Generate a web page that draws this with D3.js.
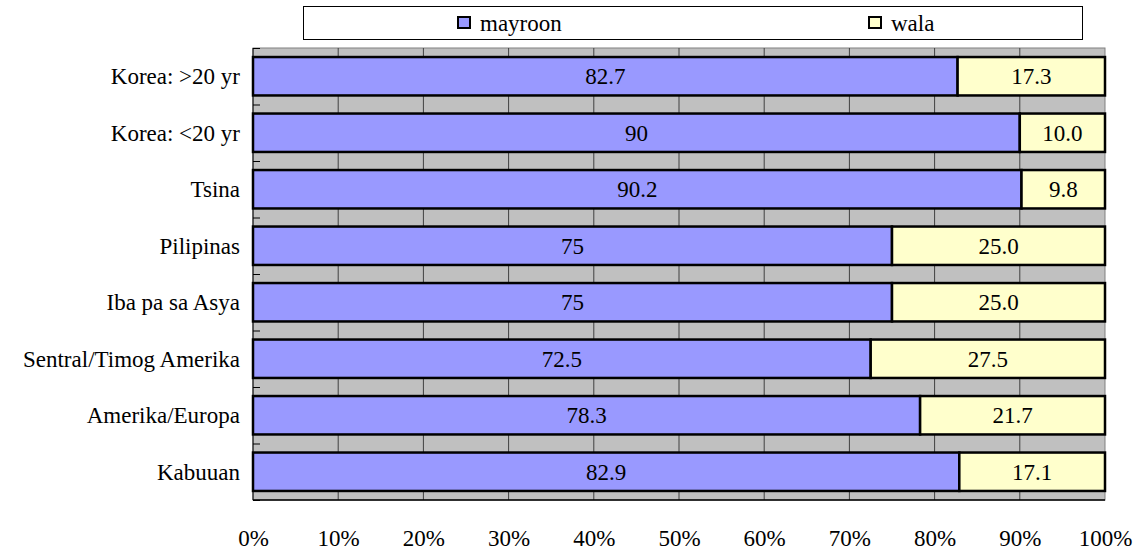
<!DOCTYPE html>
<html>
<head>
<meta charset="utf-8">
<script src="https://cdn.jsdelivr.net/npm/d3@7"></script>
<style>
  body { margin: 0; background: #fff; }
</style>
</head>
<body>
<svg id="chart" width="1141" height="551" style="font-family: 'Liberation Serif', 'DejaVu Serif', serif;"></svg>
<script>
// data
const categories = ['Korea: >20 yr', 'Korea: <20 yr', 'Tsina', 'Pilipinas', 'Iba pa sa Asya',
                    'Sentral/Timog Amerika', 'Amerika/Europa', 'Kabuuan'];
const mayroon = [82.7, 90, 90.2, 75, 75, 72.5, 78.3, 82.9];
const wala = [17.3, 10.0, 9.8, 25.0, 25.0, 27.5, 21.7, 17.1];
const mayroonLabels = ['82.7', '90', '90.2', '75', '75', '72.5', '78.3', '82.9'];
const walaLabels = ['17.3', '10.0', '9.8', '25.0', '25.0', '27.5', '21.7', '17.1'];
const seriesNames = ['mayroon', 'wala'];
const xTicks = [0, 10, 20, 30, 40, 50, 60, 70, 80, 90, 100];

const colors = { mayroon: '#9999ff', wala: '#ffffcc' };
const FONT = "'Liberation Serif', 'DejaVu Serif', serif";
const FS = 23;

const svg = d3.select('#chart');
const plotLeft = 253, plotRight = 1105, plotTop = 48, plotBottom = 500;

let x = d3.scaleLinear().domain([0, 100]).range([plotLeft, plotRight]);
let y = d3.scaleBand().domain(categories).range([plotTop, plotBottom]).paddingInner(0.32).paddingOuter(0.16);

// plot background
svg.append('rect')
   .attr('x', plotLeft).attr('y', plotTop)
   .attr('width', plotRight - plotLeft).attr('height', plotBottom - plotTop)
   .attr('fill', '#c0c0c0')
   .attr('stroke', '#808080').attr('stroke-width', 1);

// vertical gridlines
svg.append('g').selectAll('line')
   .data(xTicks.slice(1, -1))
   .enter().append('line')
   .attr('x1', d => x(d)).attr('x2', d => x(d))
   .attr('y1', plotTop).attr('y2', plotBottom)
   .attr('stroke', '#404040').attr('stroke-width', 1);

// left / bottom axis lines
svg.append('line').attr('x1', plotLeft).attr('x2', plotLeft).attr('y1', plotTop).attr('y2', plotBottom)
   .attr('stroke', '#000').attr('stroke-width', 1);
svg.append('line').attr('x1', plotLeft).attr('x2', plotRight).attr('y1', plotBottom).attr('y2', plotBottom)
   .attr('stroke', '#000').attr('stroke-width', 1.5);

// small inner ticks at band boundaries
const step = y.step();
svg.append('g').selectAll('line')
   .data(d3.range(categories.length + 1))
   .enter().append('line')
   .attr('x1', plotLeft).attr('x2', plotLeft + 7)
   .attr('y1', i => plotTop + i * step + 0.5).attr('y2', i => plotTop + i * step + 0.5)
   .attr('stroke', '#000').attr('stroke-width', 1);

// stacked bars
const rows = categories.map((c, i) => ({ cat: c, m: mayroon[i], w: wala[i], ml: mayroonLabels[i], wl: walaLabels[i] }));

const g = svg.append('g');
g.selectAll('rect.m').data(rows).enter().append('rect')
 .attr('class', 'm')
 .attr('x', d => x(0)).attr('y', d => y(d.cat))
 .attr('width', d => x(d.m) - x(0)).attr('height', y.bandwidth())
 .attr('fill', colors.mayroon).attr('stroke', '#000').attr('stroke-width', 2.5);

g.selectAll('rect.w').data(rows).enter().append('rect')
 .attr('class', 'w')
 .attr('x', d => x(d.m)).attr('y', d => y(d.cat))
 .attr('width', d => x(d.m + d.w) - x(d.m)).attr('height', y.bandwidth())
 .attr('fill', colors.wala).attr('stroke', '#000').attr('stroke-width', 2.5);

// value labels
g.selectAll('text.ml').data(rows).enter().append('text')
 .attr('x', d => (x(0) + x(d.m)) / 2).attr('y', d => y(d.cat) + y.bandwidth() / 2)
 .attr('dy', '0.35em').attr('text-anchor', 'middle')
 .style('font-family', FONT).style('font-size', FS + 'px').text(d => d.ml);

g.selectAll('text.wl').data(rows).enter().append('text')
 .attr('x', d => (x(d.m) + x(d.m + d.w)) / 2).attr('y', d => y(d.cat) + y.bandwidth() / 2)
 .attr('dy', '0.35em').attr('text-anchor', 'middle')
 .style('font-family', FONT).style('font-size', FS + 'px').text(d => d.wl);

// category labels
svg.append('g').selectAll('text')
   .data(categories).enter().append('text')
   .attr('x', 240).attr('y', d => y(d) + y.bandwidth() / 2)
   .attr('dy', '0.35em').attr('text-anchor', 'end')
   .style('font-family', FONT).style('font-size', FS + 'px').text(d => d);

// x axis labels
let xAxis = d3.axisBottom(x).tickValues(xTicks).tickFormat(d => d + '%').tickSize(0).tickPadding(0);
let gx = svg.append('g').attr('transform', 'translate(0,538)').call(xAxis);
gx.select('.domain').remove();
gx.selectAll('text').attr('fill', '#000').attr('dy', '0.35em')
  .style('font-family', FONT).style('font-size', FS + 'px');

// legend
svg.append('rect').attr('x', 303.5).attr('y', 6.5).attr('width', 779).attr('height', 33)
   .attr('fill', '#fff').attr('stroke', '#000').attr('stroke-width', 1);
const legendX = [458, 869];
const lg = svg.append('g').selectAll('g').data(seriesNames).enter().append('g')
   .attr('transform', (d, i) => `translate(${legendX[i]},17)`);
lg.append('rect').attr('width', 12).attr('height', 11)
  .attr('fill', d => colors[d]).attr('stroke', '#000').attr('stroke-width', 2);
lg.append('text').attr('x', 22).attr('y', 6).attr('dy', '0.35em')
  .style('font-family', FONT).style('font-size', FS + 'px').text(d => d);
</script>
</body>
</html>
